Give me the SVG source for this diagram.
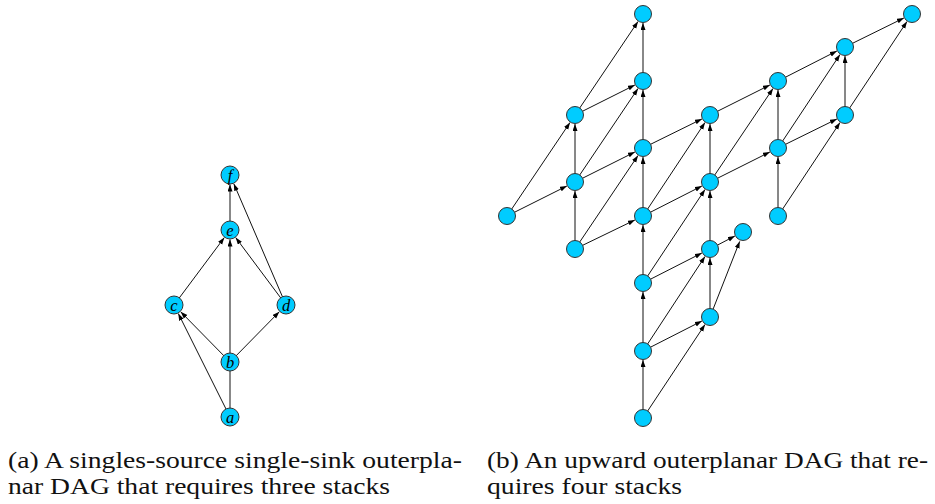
<svg xmlns="http://www.w3.org/2000/svg" width="935" height="504" viewBox="0 0 935 504">
<defs>
<marker id="ah" markerUnits="userSpaceOnUse" markerWidth="8" markerHeight="6" refX="7" refY="2.5" orient="auto"><path d="M0,0 L7,2.5 L0,5 z" fill="#000"/></marker>
<style>
.e{stroke:#111;stroke-width:1;fill:none;marker-end:url(#ah)}
.g{stroke:#888;stroke-width:2;fill:none;marker-end:url(#ah)}
.n{fill:#00ccff;stroke:#333;stroke-width:1}
.lb{font-family:"Liberation Serif",serif;font-style:italic;font-size:16.5px;text-anchor:middle;fill:#000}
.cap{font-family:"Liberation Serif",serif;font-size:22.5px;fill:#111}
</style>
</defs>
<rect width="935" height="504" fill="#fff"/>
<g id="connectors">
<line class="g" x1="230" y1="417" x2="230" y2="352.5"/>
<line class="g" x1="230" y1="362" x2="230" y2="239.5"/>
<line class="g" x1="230" y1="230" x2="230" y2="184.5"/>
<line class="e" x1="230" y1="417" x2="178.3" y2="313.5"/>
<line class="e" x1="230" y1="362" x2="180.7" y2="311.8"/>
<line class="e" x1="230" y1="362" x2="279.3" y2="311.8"/>
<line class="e" x1="174" y1="305" x2="224.3" y2="237.6"/>
<line class="e" x1="286" y1="305" x2="235.7" y2="237.6"/>
<line class="e" x1="286" y1="305" x2="233.8" y2="183.7"/>

<line class="g" x1="643" y1="418" x2="643" y2="360"/>
<line class="g" x1="643" y1="351" x2="643" y2="292"/>
<line class="g" x1="643" y1="283" x2="643" y2="225"/>
<line class="g" x1="643" y1="216" x2="643" y2="157"/>
<line class="g" x1="643" y1="148" x2="643" y2="90"/>
<line class="g" x1="643" y1="81" x2="643" y2="23"/>
<line class="e" x1="710" y1="317" x2="710" y2="258"/>
<line class="e" x1="710" y1="249" x2="710" y2="191"/>
<line class="e" x1="710" y1="182" x2="710" y2="124"/>
<line class="e" x1="575" y1="249" x2="575" y2="191"/>
<line class="e" x1="575" y1="182" x2="575" y2="124"/>
<line class="e" x1="778" y1="148" x2="778" y2="90"/>
<line class="e" x1="778" y1="216" x2="778" y2="157"/>
<line class="e" x1="845" y1="115" x2="845" y2="56"/>

<line class="e" x1="643" y1="351" x2="701.9" y2="321"/>
<line class="e" x1="643" y1="283" x2="701.9" y2="253"/>
<line class="e" x1="643" y1="216" x2="701.9" y2="186"/>
<line class="e" x1="575" y1="249" x2="634.9" y2="220"/>
<line class="e" x1="507" y1="216" x2="566.9" y2="186"/>
<line class="e" x1="575" y1="182" x2="634.9" y2="152"/>
<line class="e" x1="643" y1="148" x2="701.9" y2="119"/>
<line class="e" x1="575" y1="115" x2="634.9" y2="85"/>
<line class="e" x1="710" y1="182" x2="769.9" y2="152"/>
<line class="e" x1="710" y1="115" x2="769.9" y2="85"/>
<line class="e" x1="778" y1="148" x2="836.9" y2="119"/>
<line class="e" x1="778" y1="81" x2="836.9" y2="51"/>
<line class="e" x1="845" y1="47" x2="903.9" y2="18"/>
<line class="e" x1="710" y1="249" x2="734.9" y2="236"/>

<line class="e" x1="643" y1="418" x2="705" y2="324.5"/>
<line class="e" x1="643" y1="351" x2="705" y2="256.5"/>
<line class="e" x1="643" y1="283" x2="705" y2="189.5"/>
<line class="e" x1="643" y1="216" x2="705" y2="122.5"/>
<line class="e" x1="575" y1="249" x2="638" y2="155.5"/>
<line class="e" x1="507" y1="216" x2="570" y2="122.5"/>
<line class="e" x1="575" y1="182" x2="638" y2="88.5"/>
<line class="e" x1="575" y1="115" x2="638" y2="21.5"/>
<line class="e" x1="710" y1="182" x2="773" y2="88.5"/>
<line class="e" x1="778" y1="148" x2="840" y2="54.5"/>
<line class="e" x1="778" y1="216" x2="840" y2="122.5"/>
<line class="e" x1="845" y1="115" x2="907" y2="21.5"/>
<line class="e" x1="710" y1="317" x2="739.7" y2="241.4"/>
</g>

<g id="na"><circle class="n" cx="230" cy="417" r="9"/><text class="lb" x="230" y="422.5">a</text></g>
<g id="nb"><circle class="n" cx="230" cy="362" r="9"/><text class="lb" x="230" y="367.5">b</text></g>
<g id="nc"><circle class="n" cx="174" cy="305" r="9"/><text class="lb" x="174" y="310.5">c</text></g>
<g id="nd"><circle class="n" cx="286" cy="305" r="9"/><text class="lb" x="286" y="310.5">d</text></g>
<g id="ne"><circle class="n" cx="230" cy="230" r="9"/><text class="lb" x="230" y="235.5">e</text></g>
<g id="nf"><circle class="n" cx="230" cy="175" r="9"/><text class="lb" x="230" y="180.5">f</text></g>

<g id="rA"><circle class="n" cx="643" cy="418" r="8.5"/></g>
<g id="rB"><circle class="n" cx="643" cy="351" r="8.5"/></g>
<g id="rC"><circle class="n" cx="710" cy="317" r="8.5"/></g>
<g id="rD"><circle class="n" cx="643" cy="283" r="8.5"/></g>
<g id="rE"><circle class="n" cx="710" cy="249" r="8.5"/></g>
<g id="rF"><circle class="n" cx="743" cy="232" r="8.5"/></g>
<g id="rG"><circle class="n" cx="643" cy="216" r="8.5"/></g>
<g id="rH"><circle class="n" cx="575" cy="249" r="8.5"/></g>
<g id="rI"><circle class="n" cx="507" cy="216" r="8.5"/></g>
<g id="rJ"><circle class="n" cx="575" cy="182" r="8.5"/></g>
<g id="rK"><circle class="n" cx="643" cy="148" r="8.5"/></g>
<g id="rL"><circle class="n" cx="575" cy="115" r="8.5"/></g>
<g id="rM"><circle class="n" cx="643" cy="81" r="8.5"/></g>
<g id="rN"><circle class="n" cx="643" cy="14" r="8.5"/></g>
<g id="rO"><circle class="n" cx="710" cy="182" r="8.5"/></g>
<g id="rP"><circle class="n" cx="710" cy="115" r="8.5"/></g>
<g id="rQ"><circle class="n" cx="778" cy="81" r="8.5"/></g>
<g id="rR"><circle class="n" cx="778" cy="148" r="8.5"/></g>
<g id="rS"><circle class="n" cx="778" cy="216" r="8.5"/></g>
<g id="rT"><circle class="n" cx="845" cy="115" r="8.5"/></g>
<g id="rU"><circle class="n" cx="845" cy="47" r="8.5"/></g>
<g id="rV"><circle class="n" cx="912" cy="14" r="8.5"/></g>

<g id="captions">
<text class="cap" x="8" y="468" textLength="454" lengthAdjust="spacingAndGlyphs">(a) A singles-source single-sink outerpla-</text>
<text class="cap" x="8" y="494" textLength="382" lengthAdjust="spacingAndGlyphs">nar DAG that requires three stacks</text>
<text class="cap" x="487" y="468" textLength="441" lengthAdjust="spacingAndGlyphs">(b) An upward outerplanar DAG that re-</text>
<text class="cap" x="487" y="494" textLength="195" lengthAdjust="spacingAndGlyphs">quires four stacks</text>
</g>
</svg>
